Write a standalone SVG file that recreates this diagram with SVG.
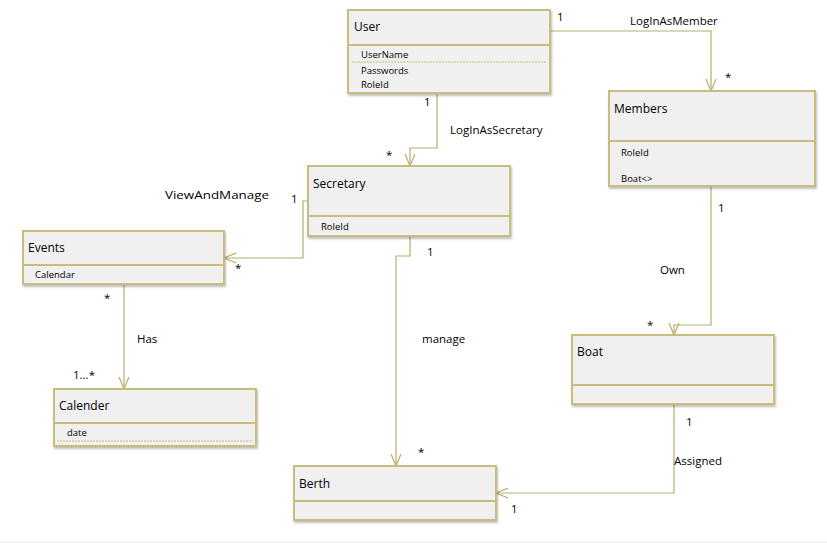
<svg xmlns="http://www.w3.org/2000/svg" width="827" height="545" viewBox="0 0 827 545">
<style>
.box{fill:#f0f0f0;stroke:#c8bd7e;stroke-width:2}
.div{stroke:#c8bd7e;stroke-width:2}
.dash{stroke:#c8bd7e;stroke-width:1;stroke-dasharray:2,1}
.name{font-family:"Open Sans","Liberation Sans",sans-serif;font-size:12px;fill:#000}
.attr{font-family:"Open Sans","Liberation Sans",sans-serif;font-size:9.5px;fill:#000}
.lbl{font-family:"Open Sans","Liberation Sans",sans-serif;font-size:11.5px;fill:#000}
.conn{fill:none;stroke:#b8ad6a;stroke-width:1.2}
</style>
<defs>
<filter id="sh" x="-5%" y="-5%" width="110%" height="120%"><feDropShadow dx="1" dy="2" stdDeviation="1.2" flood-color="#000" flood-opacity="0.25"/></filter>
<marker id="arr" markerWidth="14" markerHeight="14" refX="12" refY="6" orient="auto" markerUnits="userSpaceOnUse"><path d="M0,1 L12,6 L0,11" fill="none" stroke="#b8ad6a" stroke-width="1.2"/></marker>
</defs>
<rect width="827" height="545" fill="#fff"/>
<line x1="0" y1="542" x2="827" y2="542" stroke="#e6e6e6" stroke-width="1"/>

<g id="connectors">
<path class="conn" d="M550,31 H711 V91" marker-end="url(#arr)"/>
<path class="conn" d="M437,93 V148 H410 V166" marker-end="url(#arr)"/>
<path class="conn" d="M308,201 H303 V258 H224" marker-end="url(#arr)"/>
<path class="conn" d="M410,236 V256 H396 V466" marker-end="url(#arr)"/>
<path class="conn" d="M124,284 V389" marker-end="url(#arr)"/>
<path class="conn" d="M711,186 V325 H674 V335" marker-end="url(#arr)"/>
<path class="conn" d="M674,404 V493 H496" marker-end="url(#arr)"/>
<text class="lbl" x="557" y="21">1</text>
<text class="lbl" x="630" y="25">LogInAsMember</text>
<text class="lbl" x="725" y="81" font-size="14">*</text>
<text class="lbl" x="424" y="106">1</text>
<text class="lbl" x="450" y="134">LogInAsSecretary</text>
<text class="lbl" x="386" y="159" font-size="14">*</text>
<text class="lbl" x="291" y="203">1</text>
<text class="lbl" x="165" y="199" textLength="104" lengthAdjust="spacingAndGlyphs" font-size="12.5">ViewAndManage</text>
<text class="lbl" x="235" y="272" font-size="14">*</text>
<text class="lbl" x="427" y="256">1</text>
<text class="lbl" x="422" y="343">manage</text>
<text class="lbl" x="418" y="456" font-size="14">*</text>
<text class="lbl" x="104" y="302">*</text>
<text class="lbl" x="137" y="343">Has</text>
<text class="lbl" x="73" y="379">1...*</text>
<text class="lbl" x="718" y="212">1</text>
<text class="lbl" x="660" y="274">Own</text>
<text class="lbl" x="647" y="329" font-size="14">*</text>
<text class="lbl" x="686" y="426">1</text>
<text class="lbl" x="674" y="465">Assigned</text>
<text class="lbl" x="511" y="513">1</text>
</g>

<g id="user">
<rect class="box" x="348" y="10" width="202" height="83" filter="url(#sh)"/>
<line class="div" x1="348" y1="45" x2="550" y2="45"/>
<line class="dash" x1="352" y1="62" x2="546" y2="62"/>
<text class="name" x="354" y="31">User</text>
<text class="attr" x="361" y="58">UserName</text>
<text class="attr" x="361" y="74">Passwords</text>
<text class="attr" x="361" y="88">RoleId</text>
</g>

<g id="members">
<rect class="box" x="609" y="91" width="206" height="95" filter="url(#sh)"/>
<line class="div" x1="609" y1="141" x2="815" y2="141"/>
<text class="name" x="614" y="113">Members</text>
<text class="attr" x="621" y="156">RoleId</text>
<text class="attr" x="621" y="182">Boat&lt;&gt;</text>
</g>

<g id="secretary">
<rect class="box" x="308" y="166" width="202" height="70" filter="url(#sh)"/>
<line class="div" x1="308" y1="216" x2="510" y2="216"/>
<text class="name" x="313" y="188">Secretary</text>
<text class="attr" x="321" y="230">RoleId</text>
</g>

<g id="events">
<rect class="box" x="23" y="231" width="201" height="53" filter="url(#sh)"/>
<line class="div" x1="23" y1="265" x2="224" y2="265"/>
<text class="name" x="28" y="252">Events</text>
<text class="attr" x="35" y="278">Calendar</text>
</g>

<g id="calender">
<rect class="box" x="54" y="389" width="202" height="57" filter="url(#sh)"/>
<line class="div" x1="54" y1="423" x2="256" y2="423"/>
<line class="dash" x1="57" y1="441" x2="253" y2="441"/>
<text class="name" x="59" y="410">Calender</text>
<text class="attr" x="67" y="436">date</text>
</g>

<g id="berth">
<rect class="box" x="294" y="466" width="202" height="54" filter="url(#sh)"/>
<line class="div" x1="294" y1="501" x2="496" y2="501"/>
<text class="name" x="299" y="488">Berth</text>
</g>

<g id="boat">
<rect class="box" x="572" y="335" width="202" height="69" filter="url(#sh)"/>
<line class="div" x1="572" y1="385" x2="774" y2="385"/>
<text class="name" x="577" y="356">Boat</text>
</g>
</svg>
